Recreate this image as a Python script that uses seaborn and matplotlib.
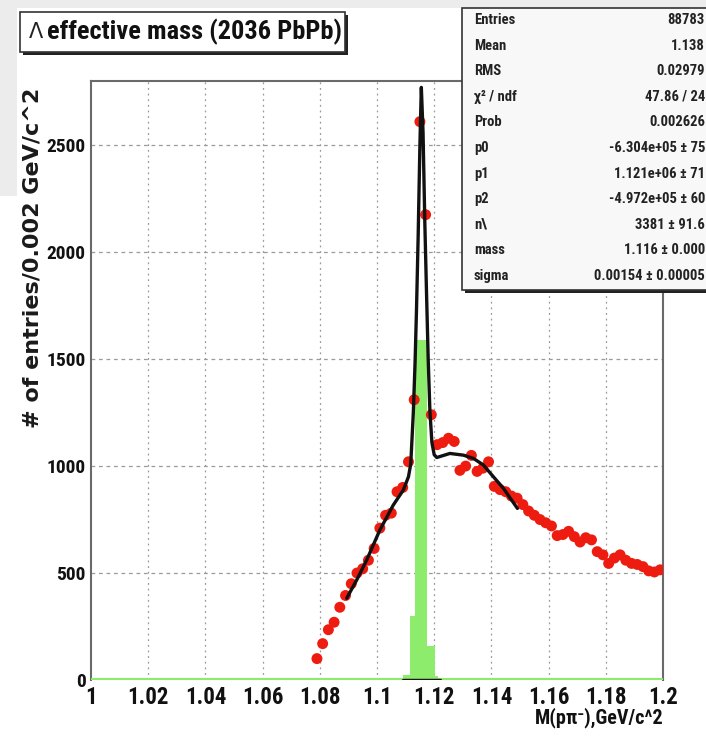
import numpy as np
import matplotlib
matplotlib.use("Agg")
import matplotlib.pyplot as plt
from matplotlib.patches import Rectangle
from matplotlib.ticker import MultipleLocator
import seaborn as sns

# ---- data -------------------------------------------------------------
# invariant-mass bins (centres, GeV/c^2) and entries per 0.002 GeV/c^2
mass_centres = np.round(1.079 + 0.002 * np.arange(61), 3)
entries = [100, 170, 235, 270, 340, 395, 450, 500, 520, 560,
           615, 710, 770, 780, 880, 900, 1020, 1310, 2610, 2175,
           1240,
           1100, 1110, 1130, 1115, 980, 1000, 1050, 975, 990, 1020,
           905, 890, 880, 860, 850, 820, 790, 770, 750, 735,
           720, 675, 680, 695, 670, 645, 665, 655, 600, 585,
           545, 570, 585, 560, 545, 540, 530, 510, 505, 515]

# fitted function (gaussian on polynomial background)
fit_mass = [1.0894, 1.0930, 1.0964, 1.1010, 1.1057, 1.1092, 1.1110, 1.1118,
            1.1127, 1.1133, 1.1138, 1.1144, 1.1150, 1.1155, 1.1161, 1.1167,
            1.1173, 1.1179, 1.1185, 1.1192, 1.1200, 1.1209, 1.1255, 1.1302,
            1.1337, 1.1372, 1.1407, 1.1442, 1.1491]
fit_value = [382, 470, 561, 701, 818, 888, 950, 1010,
             1250, 1480, 1724, 2080, 2500, 2770, 2560, 2150,
             1817, 1500, 1257, 1110, 1053, 1040, 1059, 1051,
             1036, 1005, 950, 896, 802]

# true-signal histogram
signal_edges = [1.1090, 1.1115, 1.1133, 1.1175, 1.1203, 1.1215]
signal_counts = [25, 300, 1590, 160, 20]

# signal function at zero level
signal_base_mass = [1.109, 1.122]
signal_base_value = [0, 0]

stats_labels = ["Entries", "Mean", "RMS", "\u03c7\u00b2 / ndf", "Prob", "p0", "p1",
                "p2", "n\\", "mass", "sigma"]
stats_values = ["88783", "1.138", "0.02979", "47.86 / 24", "0.002626",
                "-6.304e+05 \u00b1 75", "1.121e+06 \u00b1 71", "-4.972e+05 \u00b1 60",
                "3381 \u00b1 91.6", "1.116 \u00b1 0.000", "0.00154 \u00b1 0.00005"]

x_ticks = [1.0, 1.02, 1.04, 1.06, 1.08, 1.1, 1.12, 1.14, 1.16, 1.18, 1.2]
x_tick_labels = ["1", "1.02", "1.04", "1.06", "1.08", "1.1", "1.12", "1.14",
                 "1.16", "1.18", "1.2"]
y_ticks = [0, 500, 1000, 1500, 2000, 2500]

# ---- style ------------------------------------------------------------
sns.set_theme(style="white")
NARROW = ["Roboto Condensed", "Archivo Narrow", "Liberation Sans", "DejaVu Sans"]
WIDE = ["DejaVu Sans"]
plt.rcParams["font.family"] = NARROW
plt.rcParams["font.weight"] = "bold"

W, H = 706, 749
fig = plt.figure(figsize=(W / 100, H / 100), dpi=100)
fig.patch.set_facecolor("white")


def fx(px):
    return px / W


def fy(py):
    return 1 - py / H


# window background strips
fig.patches.append(Rectangle((0, fy(8)), 1, 8 / H, transform=fig.transFigure,
                             facecolor="#ececec", edgecolor="none", zorder=0))
fig.patches.append(Rectangle((0, fy(196)), fx(17), 188 / H, transform=fig.transFigure,
                             facecolor="#ececec", edgecolor="none", zorder=0))

ax = fig.add_axes([fx(91), fy(680), fx(663) - fx(91), fy(81) - fy(680)])
ax.set_facecolor("white")

GREEN = "#8eec6c"
RED = "#ee1c10"

# signal histogram
sns.histplot(x=signal_edges[:-1], weights=signal_counts, bins=signal_edges,
             color=GREEN, alpha=1.0, edgecolor="none", linewidth=0, ax=ax,
             zorder=2)
ax.axhline(0, color=GREEN, lw=3, zorder=3)
sns.lineplot(x=signal_base_mass, y=signal_base_value, color="#1a1a1a", lw=2.5,
             ax=ax, zorder=4)

# data points
sns.scatterplot(x=mass_centres, y=entries, color=RED, s=62, edgecolor="none",
                ax=ax, zorder=5)

# fit curve
sns.lineplot(x=fit_mass, y=fit_value, color="#111111", lw=2.4, sort=False,
             ax=ax, zorder=6)

ax.set_xlim(1.0, 1.2)
ax.set_ylim(0, 2800)
ax.set_xticks(x_ticks)
ax.set_xticklabels(x_tick_labels)
ax.set_yticks(y_ticks)
ax.xaxis.set_minor_locator(MultipleLocator(0.005))
ax.yaxis.set_minor_locator(MultipleLocator(100))
ax.set_xlabel("")
ax.set_ylabel("")

ax.tick_params(axis="both", which="both", direction="in", colors="#555555",
               labelcolor="#111111", width=1.2)
ax.tick_params(axis="x", which="major", length=10, labelsize=16.5, pad=4)
ax.tick_params(axis="x", which="minor", length=5)
ax.tick_params(axis="y", which="major", length=11, labelsize=14, pad=4)
ax.tick_params(axis="y", which="minor", length=6)
for lab in ax.get_xticklabels() + ax.get_yticklabels():
    lab.set_fontweight("bold")

# dotted grid at the major divisions
for xv in x_ticks[1:-1]:
    ax.axvline(xv, color="#9a9a9a", lw=0.9, ls=(0, (1.5, 3)), zorder=1)
for yv in y_ticks[1:]:
    ax.axhline(yv, color="#9a9a9a", lw=0.9, ls=(0, (3, 3)), zorder=1)

for side, sp in ax.spines.items():
    sp.set_color("#6a6a6a")
    sp.set_linewidth(1.5)
ax.spines["bottom"].set_visible(False)

# axis titles
fig.text(fx(33), fy(258), "# of entries/0.002 GeV/c^2", rotation=90,
         ha="center", va="center", fontsize=16, fontweight="bold",
         family=WIDE, color="#1a1a1a", zorder=3)
fig.text(fx(663), fy(718), "M(p\u03c0\u207b),GeV/c^2", ha="right", va="center",
         fontsize=14.5, fontweight="bold", family=NARROW, color="#111111")

# title box with shadow
fig.patches.append(Rectangle((fx(23), fy(55)), fx(345) - fx(20), 40 / H,
                             transform=fig.transFigure, facecolor="#222222",
                             edgecolor="none", zorder=5))
fig.patches.append(Rectangle((fx(20), fy(52)), fx(345) - fx(20), 40 / H,
                             transform=fig.transFigure, facecolor="white",
                             edgecolor="#333333", lw=1.2, zorder=6))
fig.text(fx(29), fy(32), "\u039b", ha="left", va="center", fontsize=15,
         fontweight="normal", family=WIDE, color="#222222", zorder=7)
fig.text(fx(47), fy(32), "effective mass (2036 PbPb)", ha="left", va="center",
         fontsize=19, fontweight="bold", family=NARROW, color="#111111", zorder=7)

# statistics box with shadow
fig.patches.append(Rectangle((fx(465), fy(293)), 1, (293 - 11) / H,
                             transform=fig.transFigure, facecolor="#222222",
                             edgecolor="none", zorder=5))
fig.patches.append(Rectangle((fx(462), fy(290)), 1, (290 - 8) / H,
                             transform=fig.transFigure, facecolor="#f8f8f8",
                             edgecolor="#333333", lw=1.2, zorder=6))
row_y0, row_dy = 20, 25.6
for i, (lab, val) in enumerate(zip(stats_labels, stats_values)):
    yy = fy(row_y0 + i * row_dy)
    fig.text(fx(474), yy, lab, ha="left", va="center", fontsize=10.5,
             fontweight="bold", family=NARROW, color="#222222", zorder=7)
    fig.text(fx(705), yy, val, ha="right", va="center", fontsize=10.5,
             fontweight="bold", family=NARROW, color="#222222", zorder=7)

fig.savefig("out.png", dpi=100)
